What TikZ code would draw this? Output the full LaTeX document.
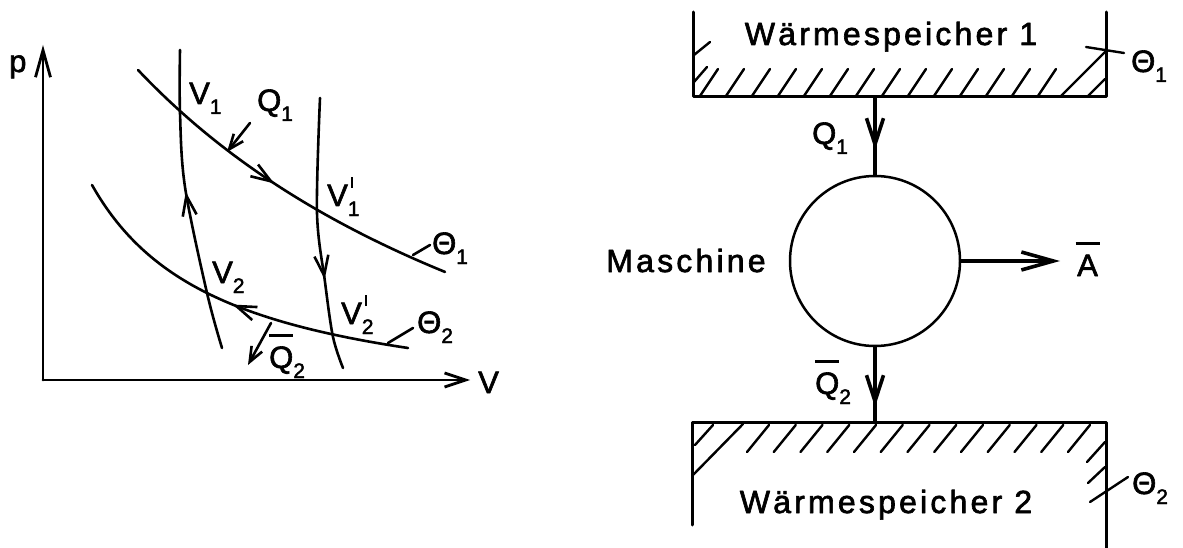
\documentclass[tikz,border=0pt]{standalone}
\usepackage{fontspec}
\setmainfont{Liberation Sans}[BoldFont=Liberation Sans, BoldFeatures={FakeBold=2}]
\newfontfamily\spaced{Liberation Sans}[LetterSpace=10, BoldFont=Liberation Sans, BoldFeatures={FakeBold=2}]
\usetikzlibrary{arrows.meta,decorations.markings}
\newcommand\lidx[1]{\raisebox{-10pt}{\fontsize{21}{22}\selectfont #1}}
\newcommand\lidxp[1]{\rlap{\raisebox{-10pt}{\fontsize{21}{22}\selectfont #1}}\kern3pt\raisebox{18pt}{\rule{2.6pt}{11pt}}}
\newcommand\obar[1]{\ooalign{#1\cr\hidewidth\rule[31pt]{24pt}{2.6pt}\hidewidth\cr}}
\begin{document}
\begin{tikzpicture}[x=1pt,y=-1pt,
  font=\fontsize{31}{34}\selectfont\bfseries,
  line cap=round, line join=round,
  curve/.style={line width=2.6pt},
  axis/.style={line width=2.8pt},
  wall/.style={line width=3pt},
  hatch/.style={line width=2.4pt},
  flow/.style={line width=3.6pt},
  lbl/.style={anchor=base west, inner sep=0pt},
  wlbl/.style={anchor=base, inner sep=0pt, font=\fontsize{32}{34}\selectfont\spaced\bfseries},
  midtip/.style={postaction={decorate},
    decoration={markings, mark=at position #1 with {\arrow{Straight Barb[length=20pt,width=14pt]}}}},
  midtiprev/.style={postaction={decorate},
    decoration={markings, mark=at position #1 with {\arrowreversed{Straight Barb[length=20pt,width=14pt]}}}}]
\useasboundingbox (0,0) rectangle (1183,548);

% ---------------- p-V diagram ----------------
\coordinate (O) at (43,380);
\coordinate (ytop) at (43,45);
\coordinate (xend) at (470,380);
\draw[axis,-{Straight Barb[length=27pt,width=15pt]}] (O) -- (ytop);
\draw[axis,-{Straight Barb[length=21pt,width=14pt]}] (O) -- (xend);
\node[lbl] (plbl) at (9,72) {p};
\node[lbl] (vlbl) at (478,393) {V};

% isotherm Theta1
\draw[curve, midtip=0.48] plot[domain=138:445, samples=80] (\x, {604.8 - 2706.2/((\x+368)/100)});
% isotherm Theta2
\draw[curve, midtiprev=0.51] plot[domain=92:408, samples=80] (\x, {415 - 298.76/((\x+37.9)/100)});
% adiabat left
\draw[curve, midtiprev=0.47] plot[smooth, tension=0.55] coordinates {(180,50) (180,113) (185,187) (207,293) (222,348)};
% adiabat right
\draw[curve, midtip=0.667] plot[smooth, tension=0.55] coordinates {(320,98) (317,213) (325,282) (333,337) (343,368)};

% heat arrows
\coordinate (q1s) at (250,123);
\coordinate (q1e) at (227,152);
\draw[curve,-{Straight Barb[length=15pt,width=12pt]}] (q1s) -- (q1e);
\coordinate (q2s) at (271,323);
\coordinate (q2e) at (248,365);
\draw[curve,-{Straight Barb[length=15pt,width=12pt]}] (q2s) -- (q2e);

% labels
\node[lbl] (v1) at (189,104) {V\lidx{1}};
\node[lbl] (lq1) at (257,111) {Q\lidx{1}};
\node[lbl] (v1p) at (327,206) {V\lidxp{1}};
\node[lbl] (v2) at (212,283) {V\lidx{2}};
\node[lbl] (v2p) at (341,324) {V\lidxp{2}};
\node[lbl] (lq2) at (269,368) {\obar{Q}\lidx{2}};
\node[lbl] (th1) at (432,254) {Θ\lidx{1}};
\node[lbl] (th2) at (417,333) {Θ\lidx{2}};
\coordinate (t1a) at (413,255);
\coordinate (t1b) at (430,245);
\draw[curve] (t1a) -- (t1b);
\coordinate (t2a) at (388,343);
\coordinate (t2b) at (413,328);
\draw[curve] (t2a) -- (t2b);

% ---------------- machine diagram ----------------
% top reservoir
\coordinate (b1tl) at (693,12);
\coordinate (b1bl) at (693,97);
\coordinate (b1br) at (1106,97);
\coordinate (b1tr) at (1106,12);
\draw[wall] (b1tl) -- (b1bl) -- (b1br) -- (b1tr);
\foreach \i in {0,...,13} \draw[hatch] ({700+26*\i},96) -- ++(18,-27);
\draw[hatch] (694,82) -- (707,67);
\draw[hatch] (694,55) -- (710,42);
\draw[hatch] (1060,97) -- (1105,52);
\draw[hatch] (1087,97) -- (1105,79);
\draw[hatch] (1086,47) -- (1124,53);
\node[wlbl] (w1) at (891,45) {Wärmespeicher 1};
\node[lbl] (rth1) at (1131,72) {Θ\lidx{1}};

% machine
\node[draw, circle, line width=2.5pt, minimum size=170pt, inner sep=0pt] (m) at (875,261) {};
\node[wlbl] (mas) at (686,272) {Maschine};

\coordinate (top1) at (875,97);
\coordinate (q1tip) at (875,150);
\draw[flow] (top1) -- (m.north);
\draw[flow,-{Straight Barb[length=26pt,width=17pt]}] (top1) -- (q1tip);
\node[lbl] (rq1) at (812,144) {Q\lidx{1}};

\coordinate (atip) at (1060,261);
\draw[flow,-{Straight Barb[length=32pt,width=18pt]}] (m.east) -- (atip);
\node[lbl] (ra) at (1077,276) {\obar{A}};

\coordinate (bot2) at (875,422);
\coordinate (q2tip) at (875,407);
\draw[flow] (m.south) -- (bot2);
\draw[flow,-{Straight Barb[length=26pt,width=17pt]}] (m.south) -- (q2tip);
\node[lbl] (rq2) at (815,394) {\obar{Q}\lidx{2}};

% bottom reservoir
\coordinate (b2bl) at (692,525);
\coordinate (b2tl) at (692,422);
\coordinate (b2tr) at (1106,422);
\coordinate (b2br) at (1106,548);
\draw[wall] (b2bl) -- (b2tl) -- (b2tr) -- (b2br);
\foreach \i in {0,...,12} \draw[hatch] ({747+26.75*\i},452) -- ++(22,-27);
\draw[hatch] (693,475) -- (743,424);
\draw[hatch] (695,445) -- (713,425);
\draw[hatch] (1087,462) -- (1105,442);
\draw[hatch] (1088,483) -- (1105,467);
\draw[hatch] (1090,502) -- (1128,477);
\node[wlbl] (w2) at (886,513) {Wärmespeicher 2};
\node[lbl] (rth2) at (1132,494) {Θ\lidx{2}};
\end{tikzpicture}
\end{document}
